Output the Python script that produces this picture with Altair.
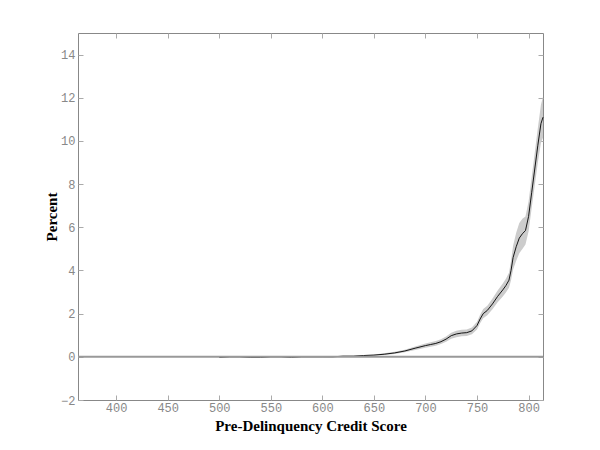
import altair as alt
import pandas as pd

# Pre-delinquency credit score (x) and percent (y) with a confidence band
score = [500, 510, 520, 530, 540, 550, 560, 570, 580, 590, 600, 610, 620, 630,
         640, 650, 660, 670, 680, 690, 700, 705, 710, 715, 720, 725, 730, 735,
         740, 745, 750, 753, 756, 760, 765, 770, 775, 778, 781, 783, 785, 788,
         791, 794, 797, 800, 803, 806, 809, 812, 814]
pct = [-0.03, 0.0, 0.0, -0.03, -0.03, 0.0, 0.0, -0.03, 0.0, 0.0, 0.0, 0.0, 0.03, 0.03,
       0.06, 0.08, 0.12, 0.18, 0.27, 0.40, 0.52, 0.57, 0.62, 0.70, 0.82, 0.98, 1.06, 1.10,
       1.12, 1.20, 1.45, 1.75, 2.00, 2.15, 2.45, 2.80, 3.10, 3.30, 3.55, 4.00, 4.60, 5.10,
       5.50, 5.70, 5.85, 6.50, 7.60, 8.70, 9.80, 10.80, 11.10]
half = [0.01, 0.01, 0.01, 0.01, 0.01, 0.01, 0.01, 0.01, 0.01, 0.01, 0.01, 0.015, 0.02, 0.02,
        0.025, 0.03, 0.04, 0.05, 0.06, 0.08, 0.10, 0.10, 0.11, 0.11, 0.12, 0.14, 0.15, 0.15,
        0.15, 0.16, 0.18, 0.20, 0.21, 0.22, 0.25, 0.27, 0.30, 0.32, 0.35, 0.45, 0.55, 0.65,
        0.70, 0.70, 0.65, 0.70, 0.72, 0.75, 0.80, 0.88, 0.95]

x_ticks = [400, 450, 500, 550, 600, 650, 700, 750, 800]
y_ticks = [-2, 0, 2, 4, 6, 8, 10, 12, 14]

df = pd.DataFrame({
    "score": score,
    "pct": pct,
    "lo": [p - h for p, h in zip(pct, half)],
    "hi": [p + h for p, h in zip(pct, half)],
})
zero_df = pd.DataFrame({"z": [0]})

xscale = alt.Scale(domain=[363, 814], nice=False, zero=False)
yscale = alt.Scale(domain=[-2, 15], nice=False, zero=False)

LABEL_FONT = "Liberation Mono"
TITLE_FONT = "Liberation Serif"
common = dict(offset=-5, tickSize=5, domain=False, grid=False,
              tickColor="#aaaaaa", tickWidth=1,
              labelFont=LABEL_FONT, labelFontSize=12, labelColor="#888888")

x_bottom = alt.Axis(values=x_ticks, title="Pre-Delinquency Credit Score",
                    labelPadding=2, titleFont=TITLE_FONT, titleFontSize=15,
                    titleFontWeight="bold", titleColor="black", titlePadding=5,
                    **common)
y_left = alt.Axis(values=y_ticks, title="Percent", labelPadding=3,
                  titleFont=TITLE_FONT, titleFontSize=15, titleFontWeight="bold",
                  titleColor="black", titlePadding=1, **common)
x_top = alt.Axis(values=x_ticks, orient="top", labels=False, title=None, **common)
y_right = alt.Axis(values=y_ticks, orient="right", labels=False, title=None, **common)

band = alt.Chart(df).mark_area(color="#cccccc", opacity=1).encode(
    x=alt.X("score:Q", scale=xscale, axis=x_bottom),
    y=alt.Y("lo:Q", scale=yscale, axis=y_left),
    y2="hi:Q",
)
line = alt.Chart(df).mark_line(color="black", strokeWidth=0.9).encode(
    x=alt.X("score:Q", scale=xscale, axis=x_top),
    y=alt.Y("pct:Q", scale=yscale, axis=None),
)
zero = alt.Chart(zero_df).mark_rule(color="#999999", strokeWidth=2).encode(
    y=alt.Y("z:Q", scale=yscale, axis=y_right),
)

chart = alt.layer(band, line, zero).resolve_axis(
    x="independent", y="independent"
).properties(
    width=465, height=367,
    autosize=alt.AutoSizeParams(type="none"),
    padding={"left": 70, "top": 25, "right": 45, "bottom": 45},
    background="white",
).configure_view(stroke="#888888", strokeWidth=1)

chart.save("out.html", embed_options={"renderer": "svg", "actions": False})
